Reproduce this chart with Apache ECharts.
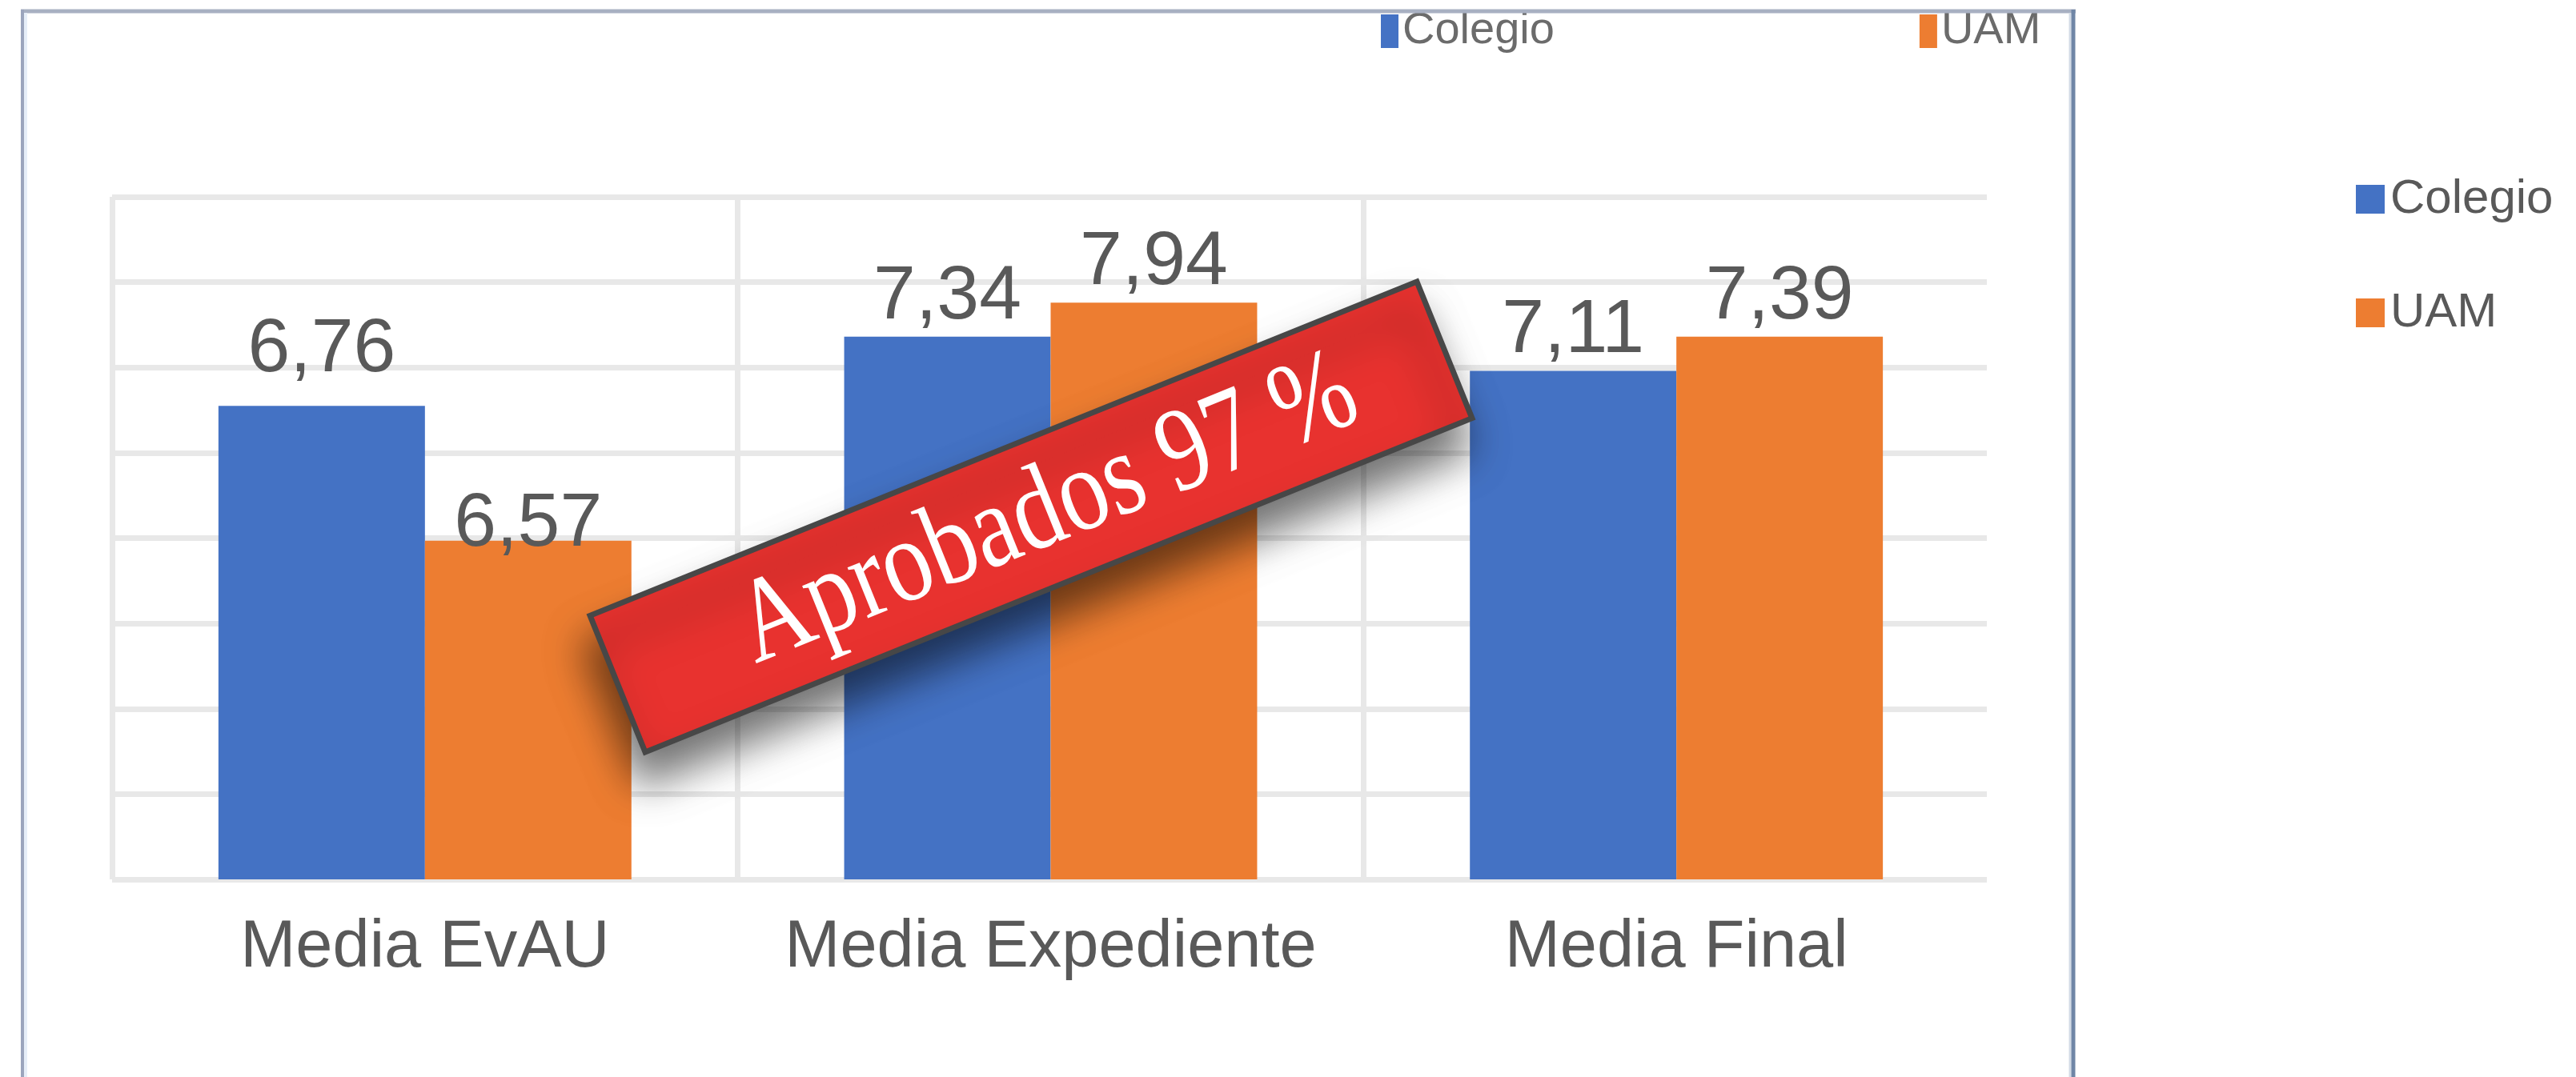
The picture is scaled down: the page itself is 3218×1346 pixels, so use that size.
<!DOCTYPE html>
<html>
<head>
<meta charset="utf-8">
<script src="https://cdn.jsdelivr.net/npm/echarts@6/dist/echarts.min.js"></script>
<style>
  html, body { margin: 0; padding: 0; background: #ffffff; }
  #chart { width: 3218px; height: 1346px; }
</style>
</head>
<body>
<div id="chart"></div>
<script>
// Categories and series
const categories = ['Media EvAU', 'Media Expediente', 'Media Final'];
const seriesNames = ['Colegio', 'UAM'];
// Bar lengths as drawn, read against the chart's 8 equal gridline steps
const colegioValues = [5.55, 6.36, 5.96];
const uamValues = [3.97, 6.76, 6.36];
// Data labels printed above the bars
const colegioLabels = ['6,76', '7,34', '7,11'];
const uamLabels = ['6,57', '7,94', '7,39'];
// Gridline scale (no tick labels shown)
const yMin = 0, yMax = 8, yStep = 1;
// Banner text
const bannerText = 'Aprobados 97 %';

// ---- styling ----
const BLUE = '#4472C4';
const ORANGE = '#ED7D31';
const TEXT = '#595959';
const GRID = '#e8e8e8';
const SANS = '"Liberation Sans", Arial, sans-serif';
// vertical nudges (px) of the printed labels, as placed in the picture
const colegioLabelNudge = [-20, 0, 0];
const uamLabelNudge = [30, 0, 0];

const chart = echarts.init(document.getElementById('chart'), null, { renderer: 'canvas' });

function barLabel(labels) {
  return {
    show: true,
    position: 'top',
    distance: 2,
    fontFamily: SANS,
    fontSize: 95,
    color: TEXT,
    formatter: p => labels[p.dataIndex]
  };
}
function items(values, nudges) {
  return values.map((v, i) => ({ value: v, label: { offset: [0, nudges[i]] } }));
}

const deg = Math.PI / 180;

chart.setOption({
  animation: false,
  backgroundColor: '#ffffff',
  color: [BLUE, ORANGE],
  grid: { left: 140, right: 733, top: 246, bottom: 247, containLabel: false },
  legend: [
    {
      data: seriesNames,
      orient: 'vertical',
      left: 2938,
      top: 214,
      itemWidth: 36,
      itemHeight: 36,
      itemGap: 82,
      icon: 'rect',
      selectedMode: false,
      textStyle: { fontFamily: SANS, fontSize: 60, color: TEXT, padding: [0, 0, 0, 2] }
    },
    {
      data: seriesNames,
      orient: 'horizontal',
      left: 1720,
      top: 6,
      itemWidth: 22,
      itemHeight: 42,
      itemGap: 456,
      icon: 'rect',
      selectedMode: false,
      textStyle: { fontFamily: SANS, fontSize: 56, color: '#6b6b6b', padding: [0, 0, 0, 0] }
    }
  ],
  xAxis: {
    type: 'category',
    data: categories,
    axisLine: { show: false },
    axisTick: { show: false },
    splitLine: {
      show: true,
      interval: 0,
      lineStyle: { color: GRID, width: 7 }
    },
    axisLabel: { interval: 0, fontFamily: SANS, fontSize: 83, color: TEXT, margin: 45 }
  },
  yAxis: {
    type: 'value',
    min: yMin,
    max: yMax,
    interval: yStep,
    axisLine: { show: false },
    axisTick: { show: false },
    axisLabel: { show: false },
    splitLine: { show: true, lineStyle: { color: GRID, width: 7 } }
  },
  series: [
    {
      name: seriesNames[0],
      type: 'bar',
      data: items(colegioValues, colegioLabelNudge),
      barGap: '0%',
      barCategoryGap: '34%',
      itemStyle: { color: BLUE },
      label: barLabel(colegioLabels)
    },
    {
      name: seriesNames[1],
      type: 'bar',
      data: items(uamValues, uamLabelNudge),
      barGap: '0%',
      barCategoryGap: '34%',
      itemStyle: { color: ORANGE },
      label: barLabel(uamLabels)
    }
  ],
  graphic: [
    // the picture has no vertical rule on the plot's right edge
    { type: 'rect', z: 50, shape: { x: 2482, y: 236, width: 12, height: 870 }, style: { fill: '#ffffff' } },
    // white margin above the pasted picture frame (clips the small top legend)
    { type: 'rect', z: 90, shape: { x: 0, y: 0, width: 2700, height: 14 }, style: { fill: '#ffffff' } },
    // frame borders
    { type: 'line', z: 95, shape: { x1: 26, y1: 14, x2: 2593, y2: 14 }, style: { stroke: '#a8b0c2', lineWidth: 5 } },
    { type: 'line', z: 95, shape: { x1: 28, y1: 12, x2: 28, y2: 1346 }, style: { stroke: '#9ba5bd', lineWidth: 4 } },
    { type: 'line', z: 95, shape: { x1: 32, y1: 16, x2: 32, y2: 1346 }, style: { stroke: '#e6eef8', lineWidth: 4 } },
    { type: 'line', z: 95, shape: { x1: 2586, y1: 16, x2: 2586, y2: 1346 }, style: { stroke: '#d3dbe6', lineWidth: 3 } },
    { type: 'line', z: 95, shape: { x1: 2590, y1: 12, x2: 2590, y2: 1346 }, style: { stroke: '#6f86a6', lineWidth: 5 } },
    // red banner
    {
      type: 'group',
      x: 1288,
      y: 646,
      rotation: 22 * deg,
      z: 100,
      children: [
        {
          type: 'rect',
          z: 100,
          shape: { x: -557, y: -92, width: 1114, height: 184 },
          style: {
            fill: '#e8322f',
            stroke: '#474747',
            lineWidth: 7,
            shadowBlur: 50,
            shadowColor: 'rgba(0,0,0,0.55)',
            shadowOffsetX: -5,
            shadowOffsetY: 38
          }
        },
        {
          type: 'text',
          z: 101,
          x: 22,
          y: 2,
          scaleY: 1.22,
          style: {
            text: bannerText,
            fontFamily: '"Liberation Serif", "Times New Roman", serif',
            fontSize: 122,
            fill: '#ffffff',
            align: 'center',
            verticalAlign: 'middle'
          }
        }
      ]
    }
  ]
});
</script>
</body>
</html>
